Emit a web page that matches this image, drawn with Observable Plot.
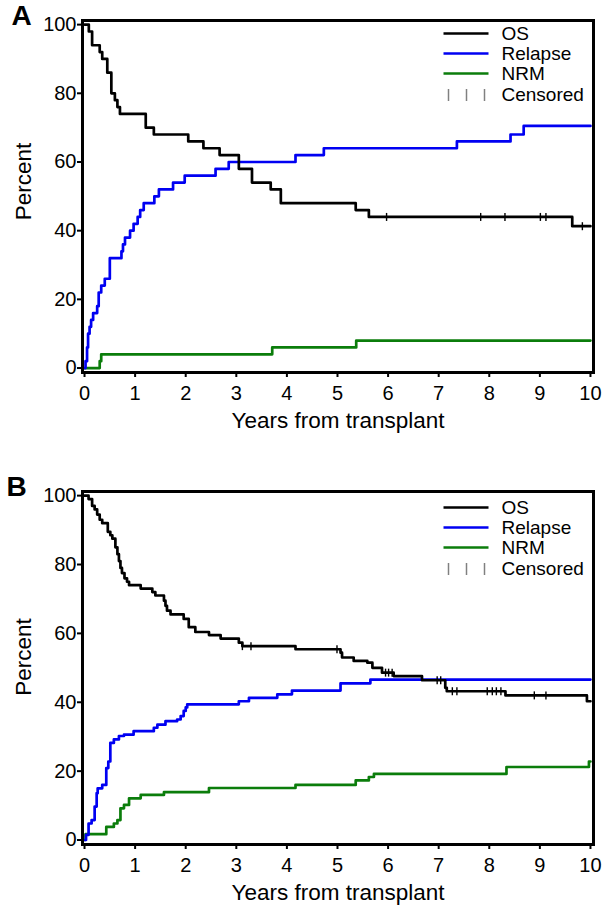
<!DOCTYPE html>
<html><head><meta charset="utf-8">
<script src="https://cdn.jsdelivr.net/npm/d3@7"></script>
<script src="https://cdn.jsdelivr.net/npm/@observablehq/plot@0.6"></script>
<style>
body{margin:0;background:#fff;}
#chart{width:606px;font-family:"Liberation Sans",Arial,sans-serif;}
#chart svg{display:block;}
#chart g[aria-label="x-axis tick"] path,#chart g[aria-label="y-axis tick"] path{stroke-width:2px;}
</style></head><body><div id="chart"></div>
<script>
// ---- categories / labels ----
const seriesNames = ["OS", "Relapse", "NRM"];
const seriesColors = ["#000000", "#0000f2", "#0b7d0b"];
const censorLabel = "Censored";
const panelLabels = ["A", "B"];
const xLabel = "Years from transplant";
const yLabel = "Percent";
const xTicks = [0, 1, 2, 3, 4, 5, 6, 7, 8, 9, 10];
const yTicks = [0, 20, 40, 60, 80, 100];

// ---- Panel A ----
const aOsT = [0, 0.085, 0.15, 0.30, 0.35, 0.45, 0.53, 0.60, 0.65, 0.70, 1.21, 1.37, 2.05, 2.35, 2.67, 3.05, 3.31, 3.68, 3.88, 5.36, 5.62, 9.64, 10.0];
const aOsV = [100, 98, 94, 92, 90, 86, 80, 78, 76, 74, 70, 68, 66, 64, 62, 58, 54, 52, 48, 46, 44, 41.3, 41.3];
const aOsCensorT = [5.97, 7.83, 8.31, 9.01, 9.12, 9.84];
const aRelT = [0, 0.02, 0.05, 0.07, 0.10, 0.13, 0.17, 0.25, 0.28, 0.33, 0.40, 0.50, 0.73, 0.76, 0.80, 0.90, 0.97, 1.05, 1.10, 1.17, 1.38, 1.47, 1.75, 1.98, 2.59, 2.85, 4.17, 4.73, 7.36, 8.42, 8.68, 10.0];
const aRelV = [0, 2, 6, 10, 12, 14, 16, 18, 22, 24, 26, 32, 34, 36, 38, 40, 42, 44, 46, 48, 50, 52, 54, 56, 58, 60, 62, 64, 66, 68, 70.5, 70.5];
const aNrmT = [0, 0.30, 0.33, 3.71, 5.37, 10.0];
const aNrmV = [0, 2, 4, 6, 8, 8];

// ---- Panel B ----
const bOsT = [0, 0.08, 0.15, 0.20, 0.25, 0.30, 0.35, 0.46, 0.51, 0.55, 0.61, 0.65, 0.68, 0.71, 0.74, 0.79, 0.84, 0.88, 1.11, 1.34, 1.40, 1.57, 1.60, 1.63, 1.70, 1.96, 2.06, 2.19, 2.46, 2.69, 3.05, 3.12, 4.17, 5.06, 5.09, 5.32, 5.59, 5.69, 5.88, 6.11, 6.67, 7.13, 7.16, 8.32, 9.93, 10.0];
const bOsV = [100, 99, 97, 96, 94.5, 93, 92, 89.5, 88.5, 87.5, 85, 83, 81, 79, 77.5, 76, 75, 74, 73, 72, 71, 69.5, 68, 66.6, 65.5, 64.2, 61.8, 60.4, 59.5, 58.5, 57.3, 56.3, 55.4, 54.4, 53, 52, 51.5, 50, 48.6, 47.6, 46.4, 44.2, 43.2, 42, 40.3, 40.3];
const bOsCensorT = [3.12, 3.29, 4.99, 5.95, 6.01, 6.08, 6.97, 7.04, 7.27, 7.36, 7.96, 8.06, 8.14, 8.23, 8.89, 9.12];
const bRelT = [0, 0.03, 0.08, 0.14, 0.20, 0.24, 0.26, 0.35, 0.43, 0.47, 0.51, 0.58, 0.68, 0.78, 0.97, 1.37, 1.44, 1.60, 1.83, 1.90, 1.96, 2.00, 2.03, 3.05, 3.25, 3.81, 4.10, 5.06, 5.65, 10.0];
const bRelV = [0, 1.5, 4.8, 5.8, 9.7, 13.6, 15, 16, 20.9, 22.8, 28.2, 29.2, 30.2, 30.6, 31.6, 32.6, 33.5, 34.5, 35, 36, 37.5, 38.5, 39.4, 40.3, 41.3, 42.3, 43.4, 45.5, 46.6, 46.6];
const bNrmT = [0, 0.02, 0.43, 0.58, 0.65, 0.71, 0.78, 0.88, 1.11, 1.57, 2.46, 4.17, 5.36, 5.62, 5.72, 8.34, 9.97, 10.0];
const bNrmV = [0, 1.7, 3.8, 4.8, 5.8, 9.2, 10.2, 12.1, 13.1, 13.9, 15.1, 16, 17.3, 18.3, 19.2, 21.2, 22.8, 22.8];

const font = '"Liberation Sans", Arial, sans-serif';

function rows(T, V, name) { return T.map((t, i) => ({t, v: V[i], name})); }
function stepAt(T, V, t) { let v = V[0]; for (let i = 0; i < T.length; i++) if (T[i] <= t) v = V[i]; return v; }

const vSym = (h) => ({draw(ctx) { ctx.moveTo(0, -h); ctx.lineTo(0, h); }});
const hSym = (w) => ({draw(ctx) { ctx.moveTo(-w, 0); ctx.lineTo(w, 0); }});

function panel(cfg) {
  const series = [
    rows(cfg.osT, cfg.osV, seriesNames[0]),
    rows(cfg.relT, cfg.relV, seriesNames[1]),
    rows(cfg.nrmT, cfg.nrmV, seriesNames[2])
  ];
  const censors = cfg.censT.map(t => ({t, v: stepAt(cfg.osT, cfg.osV, t)}));
  const marks = [];
  [2, 1, 0].forEach(i => {
    marks.push(Plot.line(series[i], {x: "t", y: "v", curve: "step-after", stroke: seriesColors[i], strokeWidth: 2.7}));
  });
  marks.push(Plot.dot(censors, {x: "t", y: "v", symbol: vSym(4), stroke: "#000", strokeWidth: 1.4, fill: "none"}));
  marks.push(Plot.frame({stroke: "#000", strokeWidth: 3}));
  // legend
  seriesNames.forEach((name, i) => {
    const dy = cfg.legTop + i * cfg.legStep;
    marks.push(Plot.dot([name], {frameAnchor: "top-right", dx: -127.5, dy, symbol: hSym(22.5), stroke: seriesColors[i], strokeWidth: 2.7, fill: "none"}));
    marks.push(Plot.text([name], {frameAnchor: "top-right", dx: -92, dy, text: d => d, textAnchor: "start", lineAnchor: "middle", fontSize: 19, fill: "#000"}));
  });
  const cdy = cfg.legTop + 3 * cfg.legStep + 1.5;
  [-145, -127, -109].forEach(dx => {
    marks.push(Plot.dot([censorLabel], {frameAnchor: "top-right", dx, dy: cdy, symbol: vSym(6), stroke: "#808080", strokeWidth: 1.5, fill: "none"}));
  });
  marks.push(Plot.text([censorLabel], {frameAnchor: "top-right", dx: -92, dy: cdy, text: d => d, textAnchor: "start", lineAnchor: "middle", fontSize: 19, fill: "#000"}));
  // axis titles and panel letter
  marks.push(Plot.text([xLabel], {frameAnchor: "bottom", dy: 48, text: d => d, textAnchor: "middle", lineAnchor: "middle", fontSize: 22.5, fill: "#000"}));
  marks.push(Plot.text([yLabel], {frameAnchor: "left", dx: -59, dy: cfg.yLabDy, rotate: -90, text: d => d, textAnchor: "middle", lineAnchor: "middle", fontSize: 22.5, fill: "#000"}));
  marks.push(Plot.text([cfg.letter], {frameAnchor: "top-left", dx: cfg.letterDx, dy: cfg.letterDy, text: d => d, textAnchor: "middle", lineAnchor: "middle", fontSize: 28, fontWeight: "bold", fill: "#000"}));

  return Plot.plot({
    width: 606,
    height: cfg.height,
    marginTop: 20,
    marginBottom: cfg.marginBottom,
    marginLeft: 82,
    marginRight: 13,
    style: {fontFamily: font, fontSize: "20px", color: "#000", background: "#fff", overflow: "visible"},
    x: {domain: [-0.04, 10.06], ticks: xTicks, tickSize: 5, tickPadding: 8, tickFormat: d => String(d), label: null},
    y: {domain: [-1.3, 101.2], ticks: yTicks, tickSize: 5, tickPadding: 1, tickFormat: d => String(d), label: null},
    marks
  });
}

const chart = document.getElementById("chart");
chart.appendChild(panel({letter: panelLabels[0], letterDx: -61, letterDy: -4, height: 471, marginBottom: 99, yLabDy: -15, legTop: 13, legStep: 20,
  osT: aOsT, osV: aOsV, censT: aOsCensorT, relT: aRelT, relV: aRelV, nrmT: aNrmT, nrmV: aNrmV}));
chart.appendChild(panel({letter: panelLabels[1], letterDx: -66, letterDy: -4, height: 439, marginBottom: 66, yLabDy: -11, legTop: 16, legStep: 20,
  osT: bOsT, osV: bOsV, censT: bOsCensorT, relT: bRelT, relV: bRelV, nrmT: bNrmT, nrmV: bNrmV}));
</script></body></html>
